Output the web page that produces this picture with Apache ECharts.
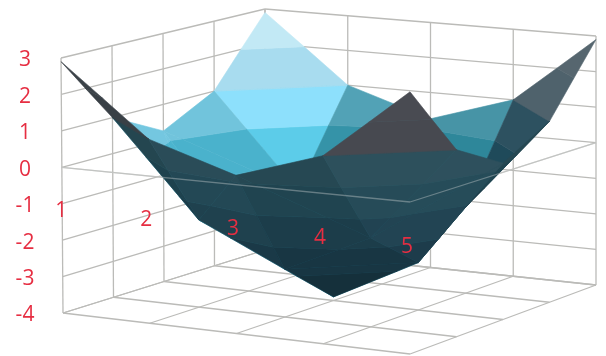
<!DOCTYPE html>
<html><head><meta charset="utf-8">
<style>html,body{margin:0;padding:0;background:#fff}#c{width:606px;height:356px;filter:blur(0.45px)}</style>
<script src="https://cdn.jsdelivr.net/npm/echarts@6/dist/echarts.min.js"></script>
</head><body><div id="c"></div>
<script>
// Data
const categories = ['1','2','3','4','5'];
const zTicks = [3,2,1,0,-1,-2,-3,-4];
const series1 = [2.9, 1.0, 0.25, 1.0, 2.9];
const series2 = [1.0, -1.6, -2.7, -1.6, 1.0];
const series3 = [0.25, -2.7, -3.9, -2.7, 0.25];
const series4 = [1.0, -1.6, -2.7, -1.6, 1.0];
const series5 = [2.9, 1.0, 0.25, 1.0, 2.9];
const surface = [series1, series2, series3, series4, series5]; // surface[v][u]

// Style tables: fill per 1-unit value band, from -4..-3 up to 2..3
const insideBand = ['#3fb4d4','#45bbdb','#50c2e0','#5ccce9','#8de0fc','#a8dcef','#c2e9f5'];
const outsideBand = ['#15303b','#183643','#1c3d4a','#204450','#264853','#3c4248','#3e444a'];
const cornerBand = ['#15303b','#183643','#1c3d4a','#1f4a5a','#2d5160','#4f626c','#56666f'];
// Face shade per cell, shade[u][v]
const shade = [
  [0.95,0.82,0.80,1.00],
  [1.10,1.00,0.80,0.58],
  [1.00,1.00,0.70,0.50],
  [1.18,1.20,1.00,1.00]
];
const cornerCell = '3,3';
const gridColor = '#bbbbb8', labelColor = '#e62e42';

// Projection of the box (pixel corners of value -4 and value 3)
const box = {
  A:[[63,313],[61,58]], B:[[410,354],[410,88]], C:[[596,285],[596,36]], D:[[265,250],[265,9]]
};
const ZMIN=-4, ZMAX=3;
function project(u,v,z){
  const t=(z-ZMIN)/(ZMAX-ZMIN), at=k=>[0,1].map(n=>box[k][0][n]*(1-t)+box[k][1][n]*t);
  const a=at('A'),b=at('B'),c=at('C'),d=at('D');
  return [0,1].map(n=>a[n]*(1-u)*(1-v)+b[n]*u*(1-v)+c[n]*u*v+d[n]*(1-u)*v);
}
function scaleColor(hex,s){
  const n=parseInt(hex.slice(1),16);
  const f=x=>Math.max(0,Math.min(255,Math.round(x)));
  const soft=Math.pow(s,0.6);
  return `rgb(${f((n>>16)*s)},${f(((n>>8)&255)*soft)},${f((n&255)*soft)})`;
}
function clipBelow(poly,lim,keepBelow){
  const out=[],ins=p=>keepBelow?p[2]<=lim:p[2]>=lim;
  poly.forEach((p,i)=>{
    const q=poly[(i+1)%poly.length];
    if(ins(p)) out.push(p);
    if(ins(p)!==ins(q)){
      const t=(lim-p[2])/(q[2]-p[2]);
      out.push([p[0]+(q[0]-p[0])*t,p[1]+(q[1]-p[1])*t,lim]);
    }
  });
  return out;
}
// Build the band polygons back to front
const facets=[];
const N=categories.length-1;
const P=(i,j)=>[i/N,j/N,surface[j][i]];
for(let i=0;i<N;i++) for(let j=N-1;j>=0;j--){
  const p00=P(i,j),p10=P(i+1,j),p11=P(i+1,j+1),p01=P(i,j+1);
  let tris = Math.abs(p00[2]-p11[2])<=Math.abs(p10[2]-p01[2])
    ? [[p00,p10,p11],[p00,p11,p01]] : [[p00,p10,p01],[p10,p11,p01]];
  const depth=t=>t.reduce((s,p)=>s+p[0]-p[1],0);
  tris.sort((a,b)=>depth(a)-depth(b));
  tris.forEach(tri=>{
    const s=tri.map(p=>project(p[0],p[1],p[2]));
    const cross=(s[1][0]-s[0][0])*(s[2][1]-s[0][1])-(s[1][1]-s[0][1])*(s[2][0]-s[0][0]);
    const isCorner=(i+','+j)===cornerCell;
    const palette=isCorner?cornerBand:(cross<0?insideBand:outsideBand);
    for(let b=0;b<insideBand.length;b++){
      let poly=clipBelow(tri,ZMIN+b,false);
      if(poly.length) poly=clipBelow(poly,ZMIN+b+1,true);
      if(poly.length<3) continue;
      facets.push({pts:poly.map(p=>project(p[0],p[1],p[2])),
        color:scaleColor(palette[b],shade[i][j])});
    }
  });
}
// Grid lines on the walls, the floor and the value-0 front edges
const wallLines=[];
const L=(a,b)=>wallLines.push([project(...a),project(...b)]);
zTicks.forEach(z=>{L([0,0,z],[0,1,z]);L([0,1,z],[1,1,z]);});
categories.forEach((c,k)=>{const t=k/N;
  L([0,t,ZMIN],[0,t,ZMAX]);L([t,1,ZMIN],[t,1,ZMAX]);
  L([t,0,ZMIN],[t,1,ZMIN]);L([0,t,ZMIN],[1,t,ZMIN]);
});
L([0,0,0],[1,0,0]);L([1,0,0],[1,1,0]);
const frontLines=[[project(0,0,0),project(1,0,0)],[project(1,0,0),project(1,1,0)]];

const lineSeries=(data,stroke,z)=>({
  type:'custom',coordinateSystem:'cartesian2d',silent:true,z,
  data:data.map((d,i)=>[i]),
  renderItem:(p,api)=>{const d=data[api.value(0)],a=api.coord(d[0]),b=api.coord(d[1]);
    return {type:'line',shape:{x1:a[0],y1:a[1],x2:b[0],y2:b[1]},style:{stroke,lineWidth:1.3}};}
});
const labels=[
  ...zTicks.map(z=>{const p=project(0,0,z);return {text:String(z),x:25,y:p[1]+2.5};}),
  ...categories.map((c,k)=>{const p=project(k/N,0,-1.15);return {text:c,x:p[0]-(k?3:1),y:p[1]+1.5};})
];
const chart=echarts.init(document.getElementById('c'),null,{renderer:'canvas'});
chart.setOption({
  animation:false,backgroundColor:'#fff',
  grid:{left:0,right:0,top:0,bottom:0},
  xAxis:{type:'value',min:0,max:606,show:false},
  yAxis:{type:'value',min:0,max:356,inverse:true,show:false},
  series:[
    lineSeries(wallLines,gridColor,1),
    {type:'custom',coordinateSystem:'cartesian2d',silent:true,z:2,
     data:facets.map((f,i)=>[i]),
     renderItem:(p,api)=>{const f=facets[api.value(0)];
       return {type:'polygon',shape:{points:f.pts.map(q=>api.coord(q))},
         style:{fill:f.color,stroke:f.color,lineWidth:0.6}};}},
    lineSeries(frontLines,'rgba(205,210,210,0.4)',3),
    {type:'custom',coordinateSystem:'cartesian2d',silent:true,z:4,
     data:labels.map((l,i)=>[i]),
     renderItem:(p,api)=>{const l=labels[api.value(0)],c=api.coord([l.x,l.y]);
       return {type:'text',x:c[0],y:c[1],style:{text:l.text,fill:labelColor,
         font:'21px "Open Sans", "Noto Sans", sans-serif',align:'center',verticalAlign:'middle'}};}}
  ]
});
</script></body></html>
